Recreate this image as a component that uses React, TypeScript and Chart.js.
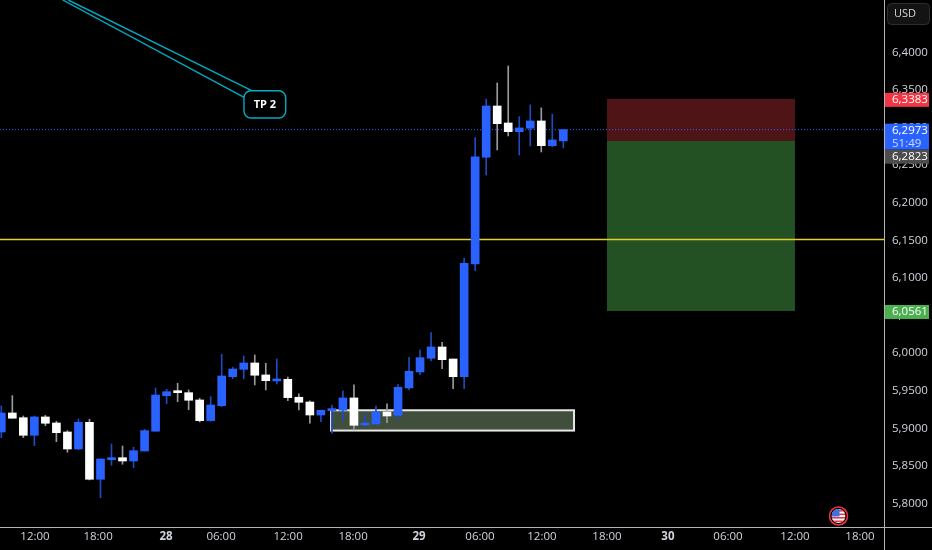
import React, { useEffect, useRef } from "react";
import { Chart, registerables } from "chart.js";

Chart.register(...registerables);

// OHLC, one entry per candle
const opens = [5.8951,5.9204,5.9141,5.8907,5.9151,5.9071,5.8951,5.8725,5.9080,5.8322,5.8583,5.8609,5.8565,5.8698,5.8961,5.9434,5.9487,5.9474,5.9377,5.9102,5.9301,5.9687,5.9785,5.9869,5.9710,5.9630,5.9652,5.9413,5.9350,5.9177,5.9235,5.9240,5.9404,5.9044,5.9058,5.9217,5.9173,5.9537,5.9749,5.9932,6.0082,5.9922,5.9687,6.1186,6.2606,6.3288,6.3062,6.2946,6.2992,6.3089,6.2760,6.2823];
const highs = [5.9297,5.9434,5.9164,5.9164,5.9173,5.9094,5.8969,5.9124,5.9120,5.8592,5.8792,5.8765,5.8748,5.8987,5.9537,5.9519,5.9599,5.9510,5.9400,5.9421,5.9985,5.9812,5.9962,5.9976,5.9865,5.9922,5.9683,5.9457,5.9364,5.9244,5.9310,5.9497,5.9577,5.9191,5.9297,5.9324,5.9581,5.9945,6.0042,6.0272,6.0145,5.9922,6.1266,6.2867,6.3378,6.3594,6.3820,6.3146,6.3302,6.3262,6.3178,6.2973];
const lows = [5.8875,5.9134,5.8875,5.8769,5.9035,5.8822,5.8681,5.8716,5.8313,5.8077,5.8508,5.8522,5.8476,5.8698,5.8961,5.9328,5.9354,5.9248,5.9084,5.9094,5.9288,5.9660,5.9660,5.9577,5.9510,5.9590,5.9368,5.9244,5.9067,5.9088,5.8934,5.9098,5.8978,5.9031,5.9058,5.9075,5.9111,5.9510,5.9714,5.9900,5.9793,5.9527,5.9527,6.1097,6.2370,6.2703,6.2889,6.2636,6.2756,6.2676,6.2747,6.2730];
const closes = [5.9204,5.9134,5.8907,5.9151,5.9067,5.8942,5.8725,5.9080,5.8322,5.8592,5.8609,5.8565,5.8702,5.8969,5.9443,5.9487,5.9474,5.9373,5.9102,5.9310,5.9696,5.9789,5.9869,5.9706,5.9634,5.9656,5.9408,5.9346,5.9177,5.9240,5.9253,5.9404,5.9040,5.9058,5.9221,5.9164,5.9546,5.9759,5.9940,6.0082,5.9913,5.9687,6.1196,6.2610,6.3288,6.3053,6.2946,6.2996,6.3089,6.2760,6.2836,6.2973];

const priceTicks = [5.8,5.85,5.9,5.95,6.0,6.05,6.1,6.15,6.2,6.25,6.3,6.35,6.4];
const timeTickSlots = [3.06,8.78,14.95,19.94,26.02,31.92,37.9,43.44,49.06,54.96,60.49,65.94,72.02,77.92];
const timeTickLabels = ["12:00","18:00","28","06:00","12:00","18:00","29","06:00","12:00","18:00","30","06:00","12:00","18:00"];
const boldLabels = ["28","29","30"];

const supportLevel = [6.1512];
const lastPrice = [6.2973];
const stopPrice = [6.3383];
const entryPrice = [6.2823];
const targetPrice = [6.0561];
const zonePrices = [5.9240, 5.8970];
const zoneSlots = [29.92, 51.97];
const tradeSlots = [54.96, 72.02];
const lineUpperSlots = [6.08, 22.73];
const lineUpperPrices = [6.4698, 6.3491];
const lineLowerSlots = [5.57, 22.03];
const lineLowerPrices = [6.4698, 6.3403];
const noteBoxSlots = [22.02, 25.81];
const noteBoxPrices = [6.3491, 6.3128];
const noteText = "TP 2";

const X_MIN = -0.118;
const X_MAX = 80.19;
const Y_MIN = 5.7687;
const Y_MAX = 6.4698;

const BLUE = "#2962ff";
const WHITE = "#ffffff";
const TEAL = "#00acc1";
const BLUE_WICK = "#1f4bc0";
const WHITE_WICK = "#9a9a9a";
const FONT = '"Open Sans", sans-serif';
const fmt = (v: number) => v.toFixed(4).replace(".", ",");

const slots = opens.map((_, i) => i);
const isUp = opens.map((o, i) => closes[i] >= o);

const overlays = {
  id: "overlays",
  beforeDraw(chart: any) {
    const { ctx, width, height } = chart;
    ctx.save();
    ctx.fillStyle = "#000000";
    ctx.fillRect(0, 0, width, height);
    ctx.restore();
  },
  beforeDatasetsDraw(chart: any) {
    const { ctx, scales: { x, y } } = chart;
    ctx.save();
    const lx = x.getPixelForValue(tradeSlots[0]);
    const rx = x.getPixelForValue(tradeSlots[1]);
    const ys = y.getPixelForValue(stopPrice[0]);
    const ye = y.getPixelForValue(entryPrice[0]);
    const yt = y.getPixelForValue(targetPrice[0]);
    ctx.fillStyle = "#4f1516";
    ctx.fillRect(lx, ys, rx - lx, ye - ys);
    ctx.fillStyle = "#235124";
    ctx.fillRect(lx, ye, rx - lx, yt - ye);
    const zl = x.getPixelForValue(zoneSlots[0]);
    const zr = x.getPixelForValue(zoneSlots[1]);
    const zt = y.getPixelForValue(zonePrices[0]);
    const zb = y.getPixelForValue(zonePrices[1]);
    ctx.fillStyle = "#3f4f3c";
    ctx.strokeStyle = "#e6e6e6";
    ctx.lineWidth = 2;
    ctx.fillRect(zl, zt, zr - zl, zb - zt);
    ctx.strokeRect(zl, zt, zr - zl, zb - zt);
    ctx.restore();
  },
  afterDraw(chart: any) {
    const { ctx, width, height, chartArea, scales: { x, y } } = chart;
    ctx.save();
    const bl = x.getPixelForValue(noteBoxSlots[0]);
    const br = x.getPixelForValue(noteBoxSlots[1]);
    const bt = y.getPixelForValue(noteBoxPrices[0]);
    const bb = y.getPixelForValue(noteBoxPrices[1]);
    ctx.beginPath();
    ctx.roundRect(bl, bt, br - bl, bb - bt, 7);
    ctx.fillStyle = "#000000";
    ctx.fill();
    ctx.strokeStyle = TEAL;
    ctx.lineWidth = 1.4;
    ctx.stroke();
    ctx.fillStyle = "#ffffff";
    ctx.font = `bold 11px ${FONT}`;
    ctx.textAlign = "center";
    ctx.textBaseline = "middle";
    ctx.fillText(noteText, (bl + br) / 2, (bt + bb) / 2);

    ctx.strokeStyle = "#b4b4b4";
    ctx.lineWidth = 1;
    ctx.beginPath();
    ctx.moveTo(chartArea.right - 0.5, 0);
    ctx.lineTo(chartArea.right - 0.5, height);
    ctx.moveTo(0, chartArea.bottom + 0.5);
    ctx.lineTo(width, chartArea.bottom + 0.5);
    ctx.stroke();

    const tag = (top: number, h: number, bg: string, fg: string, text: string, sub?: string) => {
      ctx.fillStyle = bg;
      ctx.fillRect(885, top, 44, h);
      ctx.fillStyle = fg;
      ctx.font = `11.5px ${FONT}`;
      ctx.textAlign = "left";
      ctx.textBaseline = "middle";
      ctx.fillText(text, 892, top + 7);
      if (sub) {
        ctx.fillStyle = "#cfdcff";
        ctx.fillText(sub, 892, top + 20);
      }
    };
    tag(y.getPixelForValue(stopPrice[0]) - 6, 14, "#f23645", "#ffffff", fmt(stopPrice[0]));
    const blueTop = y.getPixelForValue(lastPrice[0]) - 6;
    tag(blueTop, 26, BLUE, "#ffffff", fmt(lastPrice[0]), "51:49");
    tag(blueTop + 26, 14, "#4d4d4d", "#ffffff", fmt(entryPrice[0]));
    tag(y.getPixelForValue(targetPrice[0]) - 6, 14, "#4caf50", "#ffffff", fmt(targetPrice[0]));

    ctx.beginPath();
    ctx.roundRect(887.5, 3.5, 42, 21, 4);
    ctx.fillStyle = "#131313";
    ctx.fill();
    ctx.strokeStyle = "#2e2e2e";
    ctx.stroke();
    ctx.fillStyle = "#d1d4dc";
    ctx.font = `11px ${FONT}`;
    ctx.textAlign = "center";
    ctx.textBaseline = "middle";
    ctx.fillText("USD", 905, 14);

    const fx = 838.5, fy = 516;
    ctx.beginPath();
    ctx.arc(fx, fy, 9, 0, Math.PI * 2);
    ctx.fillStyle = "#000000";
    ctx.fill();
    ctx.strokeStyle = "#f23645";
    ctx.lineWidth = 1.5;
    ctx.stroke();
    ctx.save();
    ctx.beginPath();
    ctx.arc(fx, fy, 7, 0, Math.PI * 2);
    ctx.clip();
    ctx.fillStyle = "#ffffff";
    ctx.fillRect(fx - 7, fy - 7, 14, 14);
    ctx.fillStyle = "#e53945";
    for (let i = 0; i < 4; i++) ctx.fillRect(fx - 7, fy - 6 + i * 3.5, 14, 1.6);
    ctx.fillStyle = "#3f6fe0";
    ctx.fillRect(fx - 7, fy - 7, 8, 7.5);
    ctx.restore();
    ctx.restore();
  },
};

const zeroPadding = (s: any) => {
  s.paddingLeft = 0;
  s.paddingRight = 0;
  s.paddingTop = 0;
  s.paddingBottom = 0;
};

export default function App() {
  const ref = useRef<HTMLCanvasElement>(null);
  useEffect(() => {
    const chart = new Chart(ref.current as HTMLCanvasElement, {
      type: "bar",
      plugins: [overlays],
      data: {
        datasets: [
          {
            type: "line",
            data: [{ x: X_MIN, y: supportLevel[0] }, { x: X_MAX, y: supportLevel[0] }],
            borderColor: "#e6d025",
            borderWidth: 1.5,
            pointRadius: 0,
            order: 5,
          },
          {
            type: "line",
            data: [{ x: X_MIN, y: lastPrice[0] }, { x: X_MAX, y: lastPrice[0] }],
            borderColor: "#2962ff",
            borderWidth: 1,
            borderDash: [1, 2],
            pointRadius: 0,
            order: 5,
          },
          {
            type: "line",
            data: lineUpperSlots.map((s, i) => ({ x: s, y: lineUpperPrices[i] })),
            borderColor: TEAL,
            borderWidth: 1.4,
            pointRadius: 0,
            order: 5,
          },
          {
            type: "line",
            data: lineLowerSlots.map((s, i) => ({ x: s, y: lineLowerPrices[i] })),
            borderColor: TEAL,
            borderWidth: 1.4,
            pointRadius: 0,
            order: 5,
          },
          {
            type: "bar",
            data: slots.map((s, i) => ({ x: s, y: [lows[i], highs[i]] })),
            backgroundColor: isUp.map((u) => (u ? BLUE_WICK : WHITE_WICK)),
            barThickness: 1,
            grouped: false,
            order: 2,
          },
          {
            type: "bar",
            data: slots.map((s, i) => ({ x: s, y: [opens[i], closes[i]] })),
            backgroundColor: isUp.map((u) => (u ? BLUE : WHITE)),
            barThickness: 8,
            grouped: false,
            minBarLength: 2,
            order: 1,
          },
        ] as any,
      },
      options: {
        responsive: false,
        animation: false,
        devicePixelRatio: 1,
        layout: { padding: 0 },
        plugins: { legend: { display: false }, tooltip: { enabled: false }, title: { display: false } },
        scales: {
          x: {
            type: "linear",
            min: X_MIN,
            max: X_MAX,
            offset: false,
            grid: { display: false, drawTicks: false, offset: false },
            border: { display: false },
            afterFit: (s: any) => { s.height = 23; zeroPadding(s); },
            afterBuildTicks: (s: any) => { s.ticks = timeTickSlots.map((value) => ({ value })); },
            ticks: {
              color: "#d1d4dc",
              autoSkip: false,
              maxRotation: 0,
              padding: 3,
              font: (c: any) => ({
                family: FONT,
                size: 11.5,
                weight: boldLabels.includes(timeTickLabels[c.index]) ? "bold" : "normal",
              }),
              callback: (_v: any, i: number) => timeTickLabels[i],
            },
          },
          y: {
            type: "linear",
            position: "right",
            min: Y_MIN,
            max: Y_MAX,
            grid: { display: false, drawTicks: false },
            border: { display: false },
            afterFit: (s: any) => { s.width = 47; zeroPadding(s); },
            afterBuildTicks: (s: any) => { s.ticks = priceTicks.map((value) => ({ value })); },
            ticks: {
              color: "#d1d4dc",
              crossAlign: "near",
              padding: 7,
              font: { family: FONT, size: 11.5 },
              callback: (v: any) => fmt(Number(v)),
            },
          },
        },
      } as any,
    });
    return () => chart.destroy();
  }, []);
  return (
    <canvas
      ref={ref}
      width={932}
      height={550}
      style={{ position: "fixed", left: 0, top: 0, width: 932, height: 550, display: "block" }}
    />
  );
}
